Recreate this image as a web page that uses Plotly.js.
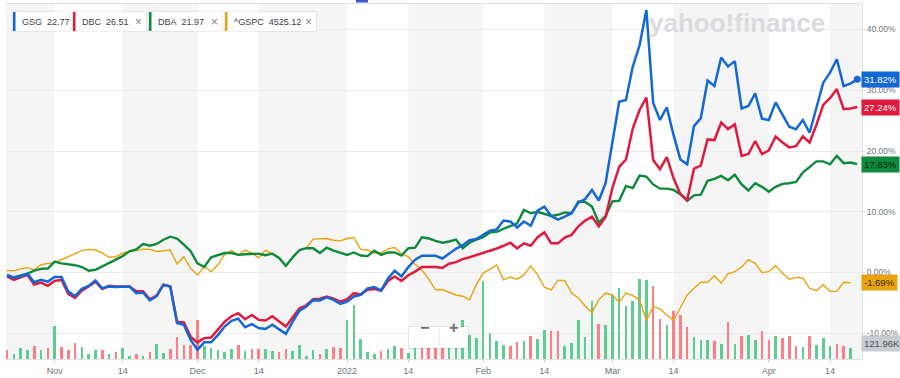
<!DOCTYPE html>
<html>
<head>
<meta charset="utf-8">
<script src="https://cdn.plot.ly/plotly-3.0.1.min.js"></script>
<style>
html,body{margin:0;padding:0;background:#fff;}
#chart{width:900px;height:378px;}
</style>
</head>
<body>
<div id="chart"></div>
<script>
// ---------- DATA ----------
const dates = [
 "2021-10-21","2021-10-22","2021-10-25","2021-10-26","2021-10-27","2021-10-28","2021-10-29",
 "2021-11-01","2021-11-02","2021-11-03","2021-11-04","2021-11-05","2021-11-08","2021-11-09","2021-11-10","2021-11-11","2021-11-12",
 "2021-11-15","2021-11-16","2021-11-17","2021-11-18","2021-11-19","2021-11-22","2021-11-23","2021-11-24","2021-11-26","2021-11-29","2021-11-30",
 "2021-12-01","2021-12-02","2021-12-03","2021-12-06","2021-12-07","2021-12-08","2021-12-09","2021-12-10","2021-12-13","2021-12-14",
 "2021-12-15","2021-12-16","2021-12-17","2021-12-20","2021-12-21","2021-12-22","2021-12-23","2021-12-27","2021-12-28","2021-12-29","2021-12-30","2021-12-31",
 "2022-01-03","2022-01-04","2022-01-05","2022-01-06","2022-01-07","2022-01-10","2022-01-11","2022-01-12","2022-01-13","2022-01-14",
 "2022-01-18","2022-01-19","2022-01-20","2022-01-21","2022-01-24","2022-01-25","2022-01-26","2022-01-27","2022-01-28","2022-01-31",
 "2022-02-01","2022-02-02","2022-02-03","2022-02-04","2022-02-07","2022-02-08","2022-02-09","2022-02-10","2022-02-11","2022-02-14",
 "2022-02-15","2022-02-16","2022-02-17","2022-02-18","2022-02-22","2022-02-23","2022-02-24","2022-02-25","2022-02-28",
 "2022-03-01","2022-03-02","2022-03-03","2022-03-04","2022-03-07","2022-03-08","2022-03-09","2022-03-10","2022-03-11","2022-03-14",
 "2022-03-15","2022-03-16","2022-03-17","2022-03-18","2022-03-21","2022-03-22","2022-03-23","2022-03-24","2022-03-25","2022-03-28",
 "2022-03-29","2022-03-30","2022-03-31",
 "2022-04-01","2022-04-04","2022-04-05","2022-04-06","2022-04-07","2022-04-08","2022-04-11","2022-04-12","2022-04-13","2022-04-14",
 "2022-04-18","2022-04-19","2022-04-20","2022-04-21"
];

// % change since first day
const gsg = [-0.45,-0.9,-0.65,-0.2,-1.6,-1.2,-1.5,-0.75,-0.75,-3.1,
 -3.9,-2.7,-2.2,-1.3,-2.6,-2.3,-2.4,-2.3,-2.3,-3.4,
 -3.3,-4.6,-3.9,-2.0,-2.3,-8.3,-8.6,-11.1,-12.7,-11.5,
 -11.5,-10.3,-8.9,-7.95,-7.6,-9.0,-8.5,-9.15,-9.3,-8.6,
 -9.3,-10.1,-8.1,-6.3,-5.6,-4.55,-4.6,-4.1,-4.5,-5.15,
 -4.8,-3.95,-3.7,-2.6,-2.4,-2.95,-1.0,0.3,-0.65,0.9,
 2.1,2.75,2.75,2.75,2.3,3.1,3.9,4.5,5.3,5.5,
 6.2,6.9,7.1,8.55,8.4,7.4,8.4,7.7,10.2,10.85,
 9.3,8.7,9.2,9.75,11.5,12.1,13.6,11.85,14.7,21.5,
 28.1,28.4,33.9,37.4,43.2,27.9,25.1,27.2,22.6,18.6,
 17.8,24.1,25.4,31.6,30.7,35.4,33.9,34.8,27.0,27.4,
 29.5,25.3,25.1,28.0,26.0,24.0,23.6,25.1,23.0,27.2,
 31.25,32.9,35.1,30.7,31.1,31.82];

const dbc = [-0.65,-1.2,-0.8,-0.4,-2.0,-1.65,-2.2,-1.4,-1.2,-3.5,
 -4.2,-3.0,-2.3,-1.5,-2.7,-2.2,-2.3,-2.3,-2.3,-3.1,
 -3.1,-4.4,-3.8,-2.0,-2.3,-8.1,-8.2,-10.6,-11.5,-10.8,
 -10.7,-9.4,-8.1,-7.2,-6.7,-7.7,-7.0,-7.8,-7.9,-7.2,
 -8.0,-8.9,-7.35,-5.9,-5.4,-4.4,-4.3,-3.95,-4.3,-4.8,
 -4.4,-3.4,-3.6,-2.85,-2.7,-3.0,-1.4,-0.65,-1.4,-0.45,
 0.15,0.9,0.9,0.9,0.75,1.45,1.7,2.2,2.5,2.85,
 3.3,3.6,3.95,4.4,4.9,3.95,4.8,4.4,5.8,6.6,
 4.8,4.8,5.75,6.2,7.6,8.55,9.2,7.6,9.1,13.9,
 17.4,18.6,23.7,26.75,28.8,18.5,17.0,19.0,15.5,12.9,
 11.95,17.1,17.6,21.9,21.8,24.7,23.6,24.4,19.2,19.5,
 21.65,19.5,20.1,22.4,21.4,20.6,20.8,22.4,21.4,24.3,
 27.6,28.7,30.2,26.9,27.0,27.24];

const dba = [-0.4,-0.8,-0.5,-0.2,0.3,0.6,0.65,1.8,1.5,1.4,
 1.2,0.9,0.3,0.45,1.0,1.5,2.1,2.7,3.5,3.8,
 4.7,4.4,4.7,5.4,5.9,5.6,4.6,3.5,1.5,0.9,
 2.5,2.9,3.2,3.2,2.9,3.0,3.1,3.1,2.85,3.1,
 2.4,1.1,2.5,3.7,4.0,4.0,3.2,4.1,3.6,3.2,
 2.9,3.3,2.8,2.7,3.6,2.9,3.3,3.3,2.8,4.0,
 4.1,5.8,5.6,5.2,4.9,5.1,5.4,4.0,4.9,5.4,
 5.8,6.6,6.7,7.2,7.6,8.1,10.3,9.75,10.0,9.65,
 9.3,9.5,9.9,9.75,11.7,11.6,10.85,8.2,9.3,11.7,
 11.8,14.25,13.9,15.95,15.8,14.5,13.8,13.8,13.6,12.9,
 11.8,12.7,12.8,15.1,15.4,15.9,15.2,16.1,14.5,13.5,
 14.7,14.1,13.3,14.1,14.6,14.7,14.9,16.45,17.3,18.3,
 18.3,17.8,19.2,18.0,18.1,17.83];

const gspc = [0.33,0.28,0.6,0.8,0.45,1.27,1.5,1.65,2.1,2.6,
 3.2,3.6,3.8,3.7,3.2,2.5,2.6,3.2,3.5,3.6,
 3.85,3.8,3.45,3.55,3.7,1.4,2.6,0.7,-0.4,1.0,
 0.17,1.27,3.0,3.6,2.9,3.7,3.2,2.4,3.7,3.1,
 2.4,1.1,2.5,3.6,4.0,5.5,5.5,5.6,5.3,5.2,
 5.6,5.75,3.8,3.7,3.2,3.2,3.9,4.1,3.1,2.6,
 1.3,0.4,-1.1,-2.85,-2.8,-3.2,-3.7,-3.9,-4.5,-2.0,
 -0.1,0.55,1.25,-1.2,-0.75,-1.1,-0.4,1.1,-0.4,-2.4,
 -2.85,-1.3,-1.3,-3.4,-4.2,-5.5,-6.6,-4.5,-3.4,-3.7,
 -4.9,-3.4,-3.8,-4.5,-7.9,-5.6,-6.0,-7.0,-7.9,-5.8,
 -3.7,-2.6,-1.6,-1.6,-0.55,-1.75,-0.2,0.15,0.9,2.1,
 1.5,0.0,0.15,1.1,-0.1,-1.1,-0.8,-0.9,-2.6,-3.0,
 -2.0,-3.1,-3.1,-1.6,-1.69,null];

// GSG volume, thousands of shares
const volume = [96,59,122,96,141,103,122,363,133,96,
 177,130,59,103,96,59,78,122,30,55,
 37,74,166,67,114,241,152,152,433,141,
 122,103,78,114,159,85,111,108,111,85,
 78,111,85,159,37,96,59,111,130,122,
 429,602,222,74,55,85,111,148,122,67,
 177,196,177,159,166,122,122,433,266,233,
 865,288,196,159,141,185,196,252,222,325,
 307,314,148,177,436,244,647,392,381,713,
 787,584,640,887,873,810,444,381,529,491,
 355,244,207,214,196,166,407,170,258,269,
 214,307,214,252,233,258,141,133,258,159,
 233,141,166,148,121.96,null];
// u = up day, d = down day
const volDir = ("duuudududd"+"duuududuud"+"uduudddddu"+"uuuududduu"+"dduuuududd"+
 "uuuuuduudu"+"udddduuuuu"+"uuuudduduu"+"dduuuuuduu"+"uuuuuddudd"+
 "duuudududu"+"uddudddudu"+"uuddu"+"u").split("");

const tickDates = ["2021-11-01","2021-11-15","2021-12-01","2021-12-14","2022-01-03","2022-01-14",
 "2022-02-01","2022-02-14","2022-03-01","2022-03-14","2022-04-01","2022-04-14"];
const tickLabels = ["Nov","14","Dec","14","2022","14","Feb","14","Mar","14","Apr","14"];
const pctTicks = [-10, 0, 10, 20, 30, 40];

const symbols = ["GSG","DBC","DBA","^GSPC"];
const lastPrices = ["22.77","26.51","21.97","4525.12"];

// ---------- STYLE ----------
const C = {blue:"#1467d6", red:"#e1193c", green:"#0d8a3e", orange:"#e8a30f",
           up:"#5ccf90", down:"#ff7e86", band:"#f5f5f5", grid:"#ebebeb", axis:"#e2e2e2", tick:"#6e767e"};
const FONT = "Liberation Sans, Arial, sans-serif";
const M = {l:6, r:38, t:4, b:19};
const W = 900, H = 378, PW = W - M.l - M.r, PH = H - M.t - M.b;
const xp = px => (px - M.l) / PW;
const yp = py => (H - M.b - py) / PH;
const xRange = [-0.15, 125.7];

const traces = [
 {type:"bar", x:dates, y:volume, yaxis:"y", width:0.38,
  marker:{color:volDir.map(d => d === "u" ? C.up : C.down)}, hoverinfo:"skip", showlegend:false},
 {type:"scatter", mode:"lines", x:dates, y:gspc, yaxis:"y2", line:{color:C.orange, width:1.4}, hoverinfo:"skip", showlegend:false},
 {type:"scatter", mode:"lines", x:dates, y:dba, yaxis:"y2", line:{color:C.green, width:2.4}, hoverinfo:"skip", showlegend:false},
 {type:"scatter", mode:"lines", x:dates, y:dbc, yaxis:"y2", line:{color:C.red, width:2.5}, hoverinfo:"skip", showlegend:false},
 {type:"scatter", mode:"lines", x:dates, y:gsg, yaxis:"y2", line:{color:C.blue, width:2.5}, hoverinfo:"skip", showlegend:false},
 {type:"scatter", mode:"markers", x:[dates[dates.length-1]], y:[gsg[gsg.length-1]], yaxis:"y2",
  marker:{color:C.blue, size:7}, hoverinfo:"skip", showlegend:false}
];

// alternating half-month bands
const idx = d => dates.indexOf(d);
const bandEdges = [[xRange[0], idx("2021-11-01")],[idx("2021-11-15"), idx("2021-12-01")],
 [idx("2021-12-14"), idx("2022-01-03")],[idx("2022-01-14"), idx("2022-02-01")],
 [idx("2022-02-14"), idx("2022-03-01")],[idx("2022-03-14"), idx("2022-04-01")],
 [idx("2022-04-14"), xRange[1]]];
const shapes = bandEdges.map(b => ({type:"rect", xref:"x", yref:"paper", x0:b[0], x1:b[1], y0:0, y1:1,
  fillcolor:C.band, line:{width:0}, layer:"below"}));

// little blue indicator at top
shapes.push({type:"rect", xref:"paper", yref:"paper", x0:xp(356), x1:xp(368), y0:yp(2.5), y1:yp(0),
  fillcolor:"#3d55d1", line:{width:0}, layer:"above"});

const annotations = [];
// legend chips
const chips = [[13,70],[73,146],[149,222],[225,316]];
const chipColors = [C.blue, C.red, C.green, C.orange];
chips.forEach((c, i) => {
  shapes.push({type:"rect", xref:"paper", yref:"paper", x0:xp(c[0]-1), x1:xp(c[1]+1), y0:yp(32), y1:yp(11),
    fillcolor:"rgba(0,0,0,0.06)", line:{width:0}, layer:"above"});
  shapes.push({type:"rect", xref:"paper", yref:"paper", x0:xp(c[0]), x1:xp(c[1]), y0:yp(31), y1:yp(12),
    fillcolor:"#ffffff", line:{width:0}, layer:"above"});
  shapes.push({type:"rect", xref:"paper", yref:"paper", x0:xp(c[0]), x1:xp(c[0]+2.5), y0:yp(31), y1:yp(12),
    fillcolor:chipColors[i], line:{width:0}, layer:"above"});
  annotations.push({xref:"paper", yref:"paper", x:xp(c[0]+7), y:yp(21.5), xanchor:"left", yanchor:"middle",
    showarrow:false, text:symbols[i] + "&nbsp; " + lastPrices[i], font:{family:FONT, size:9, color:"#3b4148"}});
  if (i > 0) annotations.push({xref:"paper", yref:"paper", x:xp(c[1]-8), y:yp(21.5), xanchor:"center", yanchor:"middle",
    showarrow:false, text:"×", font:{family:FONT, size:12, color:"#858c93"}});
});

// watermark
annotations.push({xref:"paper", yref:"paper", x:xp(647), y:yp(23), xanchor:"left", yanchor:"middle", showarrow:false,
  text:"<b>yahoo!finance</b>", font:{family:FONT, size:26, color:"#d9dbdf"}});

// last-value labels on right axis
const last = a => { for (let k = a.length - 1; k >= 0; k--) if (a[k] !== null) return a[k]; };
[[gsg, C.blue, "#ffffff"],[dbc, C.red, "#ffffff"],[dba, C.green, "#08240f"],[gspc, C.orange, "#3a2a00"]].forEach(s => {
  const v = last(s[0]);
  annotations.push({xref:"paper", yref:"y2", x:1, y:v, xanchor:"left", yanchor:"middle", xshift:-1, showarrow:false,
    text:v.toFixed(2) + "%", bgcolor:s[1], borderpad:2, font:{family:FONT, size:9.5, color:s[2]}});
});
annotations.push({xref:"paper", yref:"paper", x:1, y:yp(343.5), xanchor:"left", yanchor:"middle", xshift:-1, showarrow:false,
  text:last(volume).toFixed(2) + "K", bgcolor:"#c8cbd0", borderpad:2, font:{family:FONT, size:9.5, color:"#4a5058"}});

// zoom buttons
shapes.push({type:"rect", xref:"paper", yref:"paper", x0:xp(408), x1:xp(469), y0:yp(349), y1:yp(326),
  fillcolor:"rgba(0,0,0,0.07)", line:{width:0}, layer:"above"});
shapes.push({type:"rect", xref:"paper", yref:"paper", x0:xp(409), x1:xp(468), y0:yp(348), y1:yp(327),
  fillcolor:"#ffffff", line:{width:0}, layer:"above"});
shapes.push({type:"line", xref:"paper", yref:"paper", x0:xp(439), x1:xp(439), y0:yp(346), y1:yp(329),
  line:{color:"#e6e6e6", width:1}, layer:"above"});
annotations.push({xref:"paper", yref:"paper", x:xp(424), y:yp(337.5), showarrow:false, text:"<b>−</b>",
  font:{family:FONT, size:16, color:"#6b7177"}});
annotations.push({xref:"paper", yref:"paper", x:xp(454), y:yp(337.5), showarrow:false, text:"<b>+</b>",
  font:{family:FONT, size:16, color:"#6b7177"}});

const layout = {
  width:W, height:H, margin:M, paper_bgcolor:"#ffffff", plot_bgcolor:"#ffffff",
  showlegend:false, bargap:0, hovermode:false,
  xaxis:{type:"category", range:xRange, tickmode:"array", tickvals:tickDates, ticktext:tickLabels,
    ticks:"outside", ticklen:3, tickcolor:"#cfd3d7", showline:true, linecolor:C.axis, mirror:true,
    showgrid:false, zeroline:false, tickfont:{family:FONT, size:9, color:C.tick}, fixedrange:true},
  yaxis:{range:[0, 3937], visible:false, fixedrange:true},
  yaxis2:{overlaying:"y", side:"right", range:[-14.24, 44.2], tickmode:"array", tickvals:pctTicks,
    ticktext:pctTicks.map(v => v.toFixed(2) + "%"), showgrid:true, gridcolor:C.grid, zeroline:false,
    ticks:"outside", ticklen:2, tickcolor:"#cfd3d7", showline:true, linecolor:C.axis,
    tickfont:{family:FONT, size:8.5, color:C.tick}, fixedrange:true, automargin:false},
  shapes:shapes, annotations:annotations
};

Plotly.newPlot("chart", traces, layout, {displayModeBar:false, staticPlot:true});
</script>
</body>
</html>
